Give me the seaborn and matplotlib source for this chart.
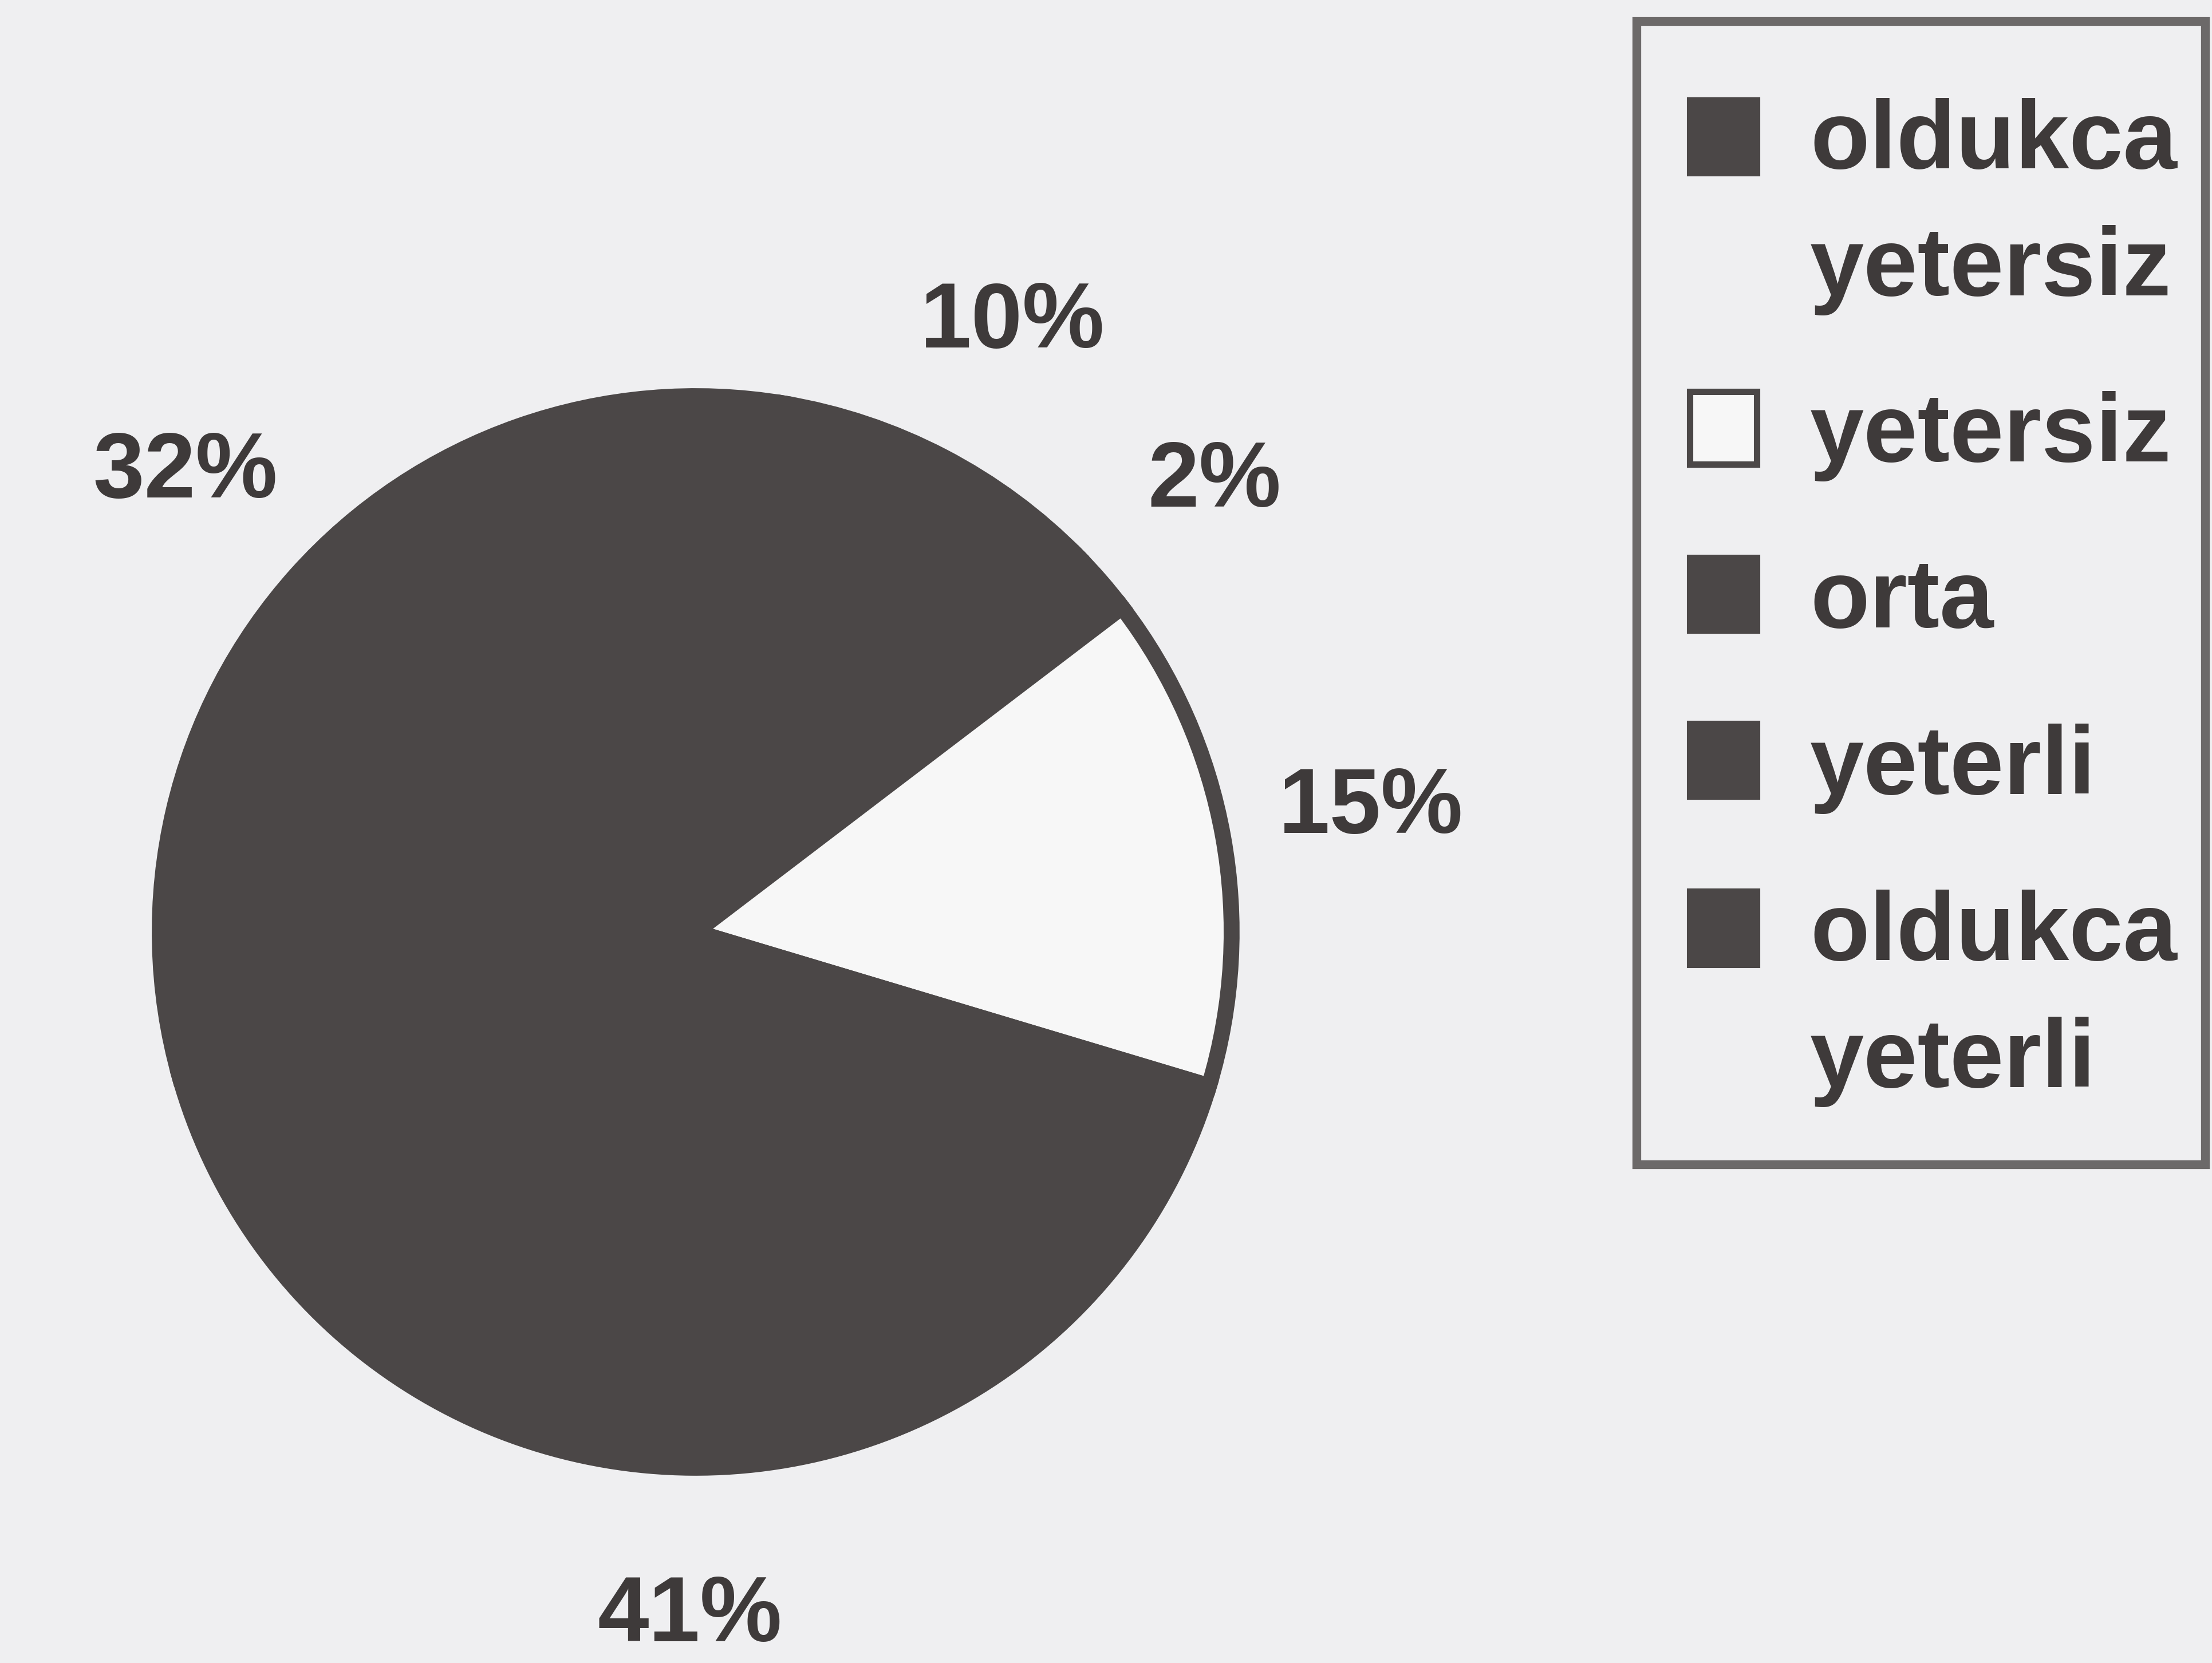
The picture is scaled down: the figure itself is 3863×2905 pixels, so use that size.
import matplotlib
matplotlib.use("Agg")
import matplotlib.pyplot as plt
from matplotlib.patches import Patch, Rectangle
from matplotlib.legend_handler import HandlerPatch
from matplotlib.path import Path
import seaborn as sns

sns.set_theme(style="white")
plt.rcParams['font.family'] = ['Liberation Sans', 'DejaVu Sans']

# veriler (saat yonunde, tepeden biraz sagdan baslayarak)
kategoriler = ['oldukca\nyetersiz', 'yetersiz', 'orta', 'yeterli', 'oldukca\nyeterli']
yuzdeler = [10, 2, 15, 41, 32]

koyu = '#4b4747'
yazi = '#3e3a3a'
zemin = '#efeff1'
# taramada sadece 15% dilimi beyaz gorunuyor
dilim_renk = [koyu, koyu, '#f7f7f7', koyu, koyu]
# legendde ise ikinci kutu beyaz
legend_renk = [koyu, '#f7f7f7', koyu, koyu, koyu]

fig = plt.figure(figsize=(38.63, 29.05), dpi=100)
fig.patch.set_facecolor(zemin)

ax = fig.add_axes([0.0722, 0.1174, 0.4846, 0.6444])
wedges, texts, autotexts = ax.pie(
    yuzdeler, colors=dilim_renk, startangle=80.5, counterclock=False,
    autopct='%1.0f%%', pctdistance=1.28,
    wedgeprops=dict(edgecolor=koyu, linewidth=20),
    textprops=dict(fontsize=116, fontweight='bold', color=yazi))
ax.set_xlim(-1, 1)
ax.set_ylim(-1, 1)
ax.set_aspect('equal')
ax.axis('off')


def kutu(legend, orig_handle, xdescent, ydescent, width, height, fontsize):
    # kutu solda biraz bosluk birakip ciziliyor
    bosluk = 0.26 * fontsize
    return Rectangle((-xdescent + bosluk, -ydescent), width - bosluk, height)


def yukari_kutu(legend, orig_handle, xdescent, ydescent, width, height, fontsize):
    # iki satirli etiketlerde kutu ilk satira hizalansin
    bosluk = 0.26 * fontsize
    return Rectangle((-xdescent + bosluk, -ydescent + 0.74 * fontsize),
                     width - bosluk, height)


def cerceve(x0, y0, width, height, mutation_size):
    # ust ve altta daha fazla bosluk
    ust = 0.5 * mutation_size
    alt = 0.3 * mutation_size
    x1, y1 = x0 + width, y0 + height + ust
    y0 = y0 - alt
    return Path([(x0, y0), (x1, y0), (x1, y1), (x0, y1), (x0, y0)],
                [Path.MOVETO, Path.LINETO, Path.LINETO, Path.LINETO, Path.CLOSEPOLY])


fs = 122
handles = []
hmap = {}
for lab, c in zip(kategoriler, legend_renk):
    p = Patch(facecolor=c, edgecolor=koyu, linewidth=8)
    handles.append(p)
    hmap[p] = HandlerPatch(patch_func=yukari_kutu if '\n' in lab else kutu)

leg = fig.legend(handles, kategoriler, loc='upper right',
                 bbox_to_anchor=(0.9969, 0.958), borderaxespad=0,
                 prop=dict(size=fs, weight='bold'), labelcolor=yazi,
                 handlelength=0.95, handleheight=0.78, handletextpad=0.55,
                 labelspacing=0.78, borderpad=0.29, frameon=True,
                 fancybox=False, handler_map=hmap)
for t in leg.get_texts():
    t.set_linespacing(1.52)
fr = leg.get_frame()
fr.set_boxstyle(cerceve)
fr.set_edgecolor(koyu)
fr.set_linewidth(11)
fr.set_facecolor(zemin)

fig.savefig('out.png', dpi=100, facecolor=zemin)
